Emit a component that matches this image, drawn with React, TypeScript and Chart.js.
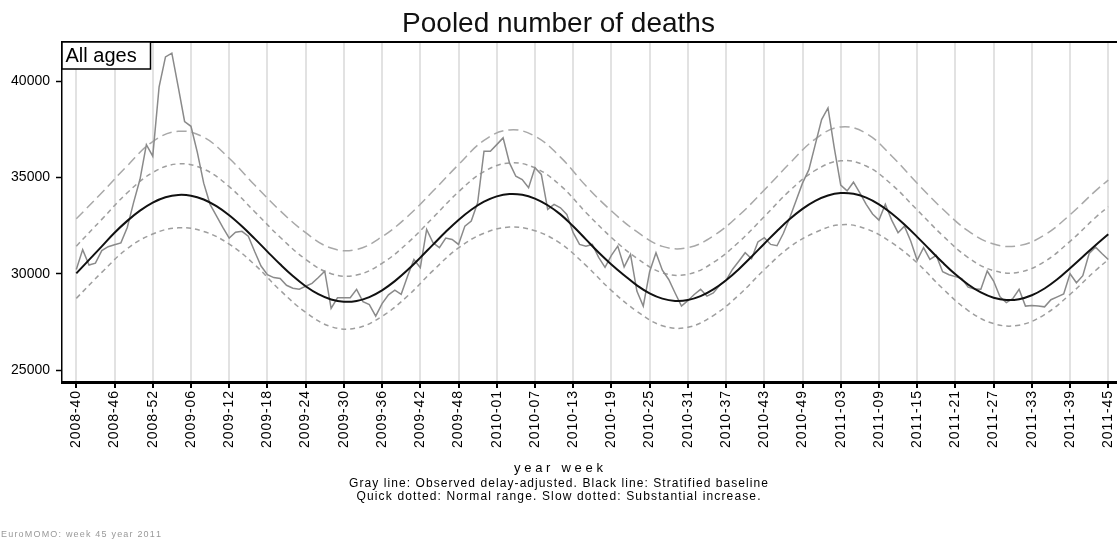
import React, { useEffect, useRef } from 'react';
import { Chart, registerables } from 'chart.js';

Chart.register(...registerables);

const FONT = "'Liberation Sans', Arial, Helvetica, sans-serif";

const titleText = 'Pooled number of deaths';
const panelLabel = 'All ages';
const xAxisTitle = 'year week';
const noteLine1 = 'Gray line: Observed delay-adjusted. Black line: Stratified baseline';
const noteLine2 = 'Quick dotted: Normal range. Slow dotted: Substantial increase.';
const sourceNote = 'EuroMOMO: week 45 year 2011';

// x position of each tick = week index counted from 2008-40
const tickWeeks = [0, 6, 12, 18, 24, 30, 36, 42, 48, 54, 60, 66, 72, 78, 84, 90, 96, 102, 108, 114, 120, 126, 132, 138, 144, 150, 156, 162];
const tickLabels = [
  '2008-40', '2008-46', '2008-52', '2009-06', '2009-12', '2009-18', '2009-24', '2009-30', '2009-36', '2009-42',
  '2009-48', '2010-01', '2010-07', '2010-13', '2010-19', '2010-25', '2010-31', '2010-37', '2010-43', '2010-49',
  '2011-03', '2011-09', '2011-15', '2011-21', '2011-27', '2011-33', '2011-39', '2011-45',
];
const yTickValues = [25000, 30000, 35000, 40000];

// weekly observed (delay-adjusted) deaths, week 0 = 2008-40 ... week 162 = 2011-45
const observed = [
  30220, 31250, 30450, 30550, 31200, 31400, 31500, 31600, 32400, 33700,
  34900, 36700, 36100, 39700, 41250, 41450, 39700, 37900, 37650, 36300,
  34700, 33600, 33000, 32400, 31850, 32150, 32200, 31950, 31150, 30400,
  29950, 29800, 29750, 29400, 29250, 29200, 29350, 29500, 29800, 30130,
  28200, 28750, 28750, 28750, 29190, 28550, 28400, 27800, 28450, 28900,
  29150, 28930, 29870, 30740, 30310, 32300, 31600, 31350, 31850, 31780,
  31520, 32470, 32730, 33680, 36360, 36360, 36700, 37050, 35750, 35060,
  34890, 34460, 35500, 35150, 33340, 33600, 33420, 33080, 32130, 31520,
  31430, 31520, 30850, 30330, 30950, 31430, 30350, 31000, 29100, 28320,
  30100, 31090, 30180, 29700, 29000, 28320, 28600, 28920, 29190, 28840,
  29000, 29400, 29650, 30220, 30650, 31090, 30780, 31650, 31870, 31520,
  31450, 32100, 32900, 33800, 34700, 35400, 36700, 38000, 38600, 36500,
  34600, 34300, 34750, 34200, 33600, 33100, 32780, 33600, 32780, 32130,
  32470, 31690, 30700, 31350, 30740, 30950, 30100, 29950, 29850, 29750,
  29300, 29200, 29190, 30140, 29620, 28800, 28500, 28700, 29190, 28320,
  28350, 28330, 28280, 28650, 28800, 28950, 30000, 29530, 29900, 31050,
  31380, 31050, 30740,
];

const baselineWeeks = [
  0, 2, 4, 6, 8, 10, 12, 14, 16, 18,
  20, 22, 24, 26, 28, 30, 32, 34, 36, 38,
  40, 42, 44, 46, 48, 50, 52, 54, 56, 58,
  60, 62, 64, 66, 68, 70, 72, 74, 76, 78,
  80, 82, 84, 86, 88, 90, 92, 94, 96, 98,
  100, 102, 104, 106, 108, 110, 112, 114, 116, 118,
  120, 122, 124, 126, 128, 130, 132, 134, 136, 138,
  140, 142, 144, 146, 148, 150, 152, 154, 156, 158,
  160, 162,
];
const baseline = [
  30020, 30720, 31420, 32126, 32742, 33272, 33689, 33967, 34089, 34050,
  33852, 33506, 33033, 32461, 31819, 31148, 30488, 29876, 29349, 28936,
  28662, 28543, 28586, 28787, 29137, 29614, 30189, 30835, 31509, 32173,
  32789, 33319, 33736, 34013, 34136, 34097, 33899, 33553, 33079, 32460,
  31780, 31100, 30480, 29922, 29396, 28983, 28709, 28590, 28632, 28834,
  29184, 29661, 30236, 30881, 31556, 32220, 32836, 33366, 33782, 34060,
  34183, 34144, 33946, 33599, 33126, 32555, 31913, 31242, 30581, 29969,
  29443, 29030, 28756, 28636, 28679, 28881, 29231, 29708, 30282, 30880,
  31480, 32050,
];

const bandWeeks = [
  0, 4, 8, 12, 16, 20, 24, 28, 32, 36,
  40, 44, 48, 52, 56, 60, 64, 68, 72, 76,
  80, 84, 88, 92, 96, 100, 104, 108, 112, 116,
  120, 124, 128, 132, 136, 140, 144, 148, 152, 156,
  160, 162,
];
const upperSubstantial = [
  32850, 34200, 35600, 36860, 37390, 37080, 35990, 34600, 33270, 32130,
  31330, 31260, 31920, 32970, 34290, 35660, 36920, 37460, 37140, 36050,
  34560, 33260, 32180, 31420, 31350, 31960, 33020, 34340, 35730, 36990,
  37620, 37280, 36110, 34690, 33360, 32220, 31540, 31460, 32010, 33060,
  34300, 34860,
];
const upperNormal = [
  31430, 32820, 34200, 35250, 35700, 35430, 34520, 33220, 31890, 30750,
  30000, 29930, 30540, 31590, 32910, 34250, 35300, 35750, 35490, 34580,
  33180, 31880, 30800, 30050, 29970, 30580, 31640, 32960, 34310, 35360,
  35860, 35590, 34630, 33310, 31980, 30840, 30160, 30080, 30630, 31680,
  32920, 33480,
];
const lowerNormal = [
  28720, 30070, 31300, 32060, 32380, 32190, 31540, 30470, 29140, 28000,
  27250, 27180, 27790, 28840, 30160, 31340, 32100, 32420, 32230, 31570,
  30430, 29130, 28050, 27300, 27220, 27830, 28890, 30210, 31380, 32140,
  32540, 32330, 31610, 30560, 29230, 28090, 27410, 27330, 27880, 28930,
  30170, 30730,
];

function drawSpaced(ctx: CanvasRenderingContext2D, text: string, x: number, y: number, target: number) {
  const chars = Array.from(text);
  const widths = chars.map((c) => ctx.measureText(c).width);
  const natural = widths.reduce((a, b) => a + b, 0);
  const sp = chars.length > 1 ? (target - natural) / (chars.length - 1) : 0;
  let cx = x;
  chars.forEach((c, i) => {
    ctx.fillText(c, cx, y);
    cx += widths[i] + sp;
  });
}

const decorPlugin = {
  id: 'decor',
  afterDraw(chart: any) {
    const ctx: CanvasRenderingContext2D = chart.ctx;
    const area = chart.chartArea;
    const xs = chart.scales.x;
    const W = chart.width;
    ctx.save();

    // top frame line
    ctx.strokeStyle = '#000';
    ctx.lineWidth = 2;
    ctx.beginPath();
    ctx.moveTo(area.left - 0.75, area.top);
    ctx.lineTo(W, area.top);
    ctx.stroke();

    // panel label box
    ctx.fillStyle = '#fff';
    ctx.fillRect(area.left, area.top, 88.5, 27);
    ctx.lineWidth = 1.5;
    ctx.strokeRect(area.left, area.top, 88.5, 27);
    ctx.fillStyle = '#000';
    ctx.font = `20px ${FONT}`;
    ctx.textAlign = 'left';
    ctx.textBaseline = 'alphabetic';
    ctx.fillText(panelLabel, area.left + 3.5, area.top + 20);

    // title
    ctx.font = `28px ${FONT}`;
    ctx.textAlign = 'center';
    ctx.fillStyle = '#111';
    ctx.fillText(titleText, W / 2, 31.5);

    // rotated x tick labels
    ctx.font = `14px ${FONT}`;
    ctx.textAlign = 'left';
    ctx.textBaseline = 'middle';
    ctx.fillStyle = '#000';
    tickWeeks.forEach((w, i) => {
      const px = xs.getPixelForValue(w);
      ctx.save();
      ctx.translate(px, 391);
      ctx.rotate(-Math.PI / 2);
      drawSpaced(ctx, tickLabels[i], -57, 0, 57);
      ctx.restore();
    });

    // axis title and notes
    ctx.textBaseline = 'alphabetic';
    const cx = W / 2;
    ctx.font = `13px ${FONT}`;
    drawSpaced(ctx, xAxisTitle, cx - 89 / 2, 472, 89);
    ctx.font = `12px ${FONT}`;
    drawSpaced(ctx, noteLine1, cx - 419 / 2, 487, 419);
    drawSpaced(ctx, noteLine2, cx - 404 / 2, 500, 404);
    ctx.font = `9px ${FONT}`;
    ctx.fillStyle = '#999';
    drawSpaced(ctx, sourceNote, 1, 537, 160);

    ctx.restore();
  },
};

export default function App() {
  const ref = useRef<HTMLCanvasElement>(null);

  useEffect(() => {
    document.body.style.margin = '0';
    const canvas = ref.current;
    if (!canvas) return;
    const chart = new Chart(canvas, {
      type: 'line',
      data: {
        datasets: [
          {
            label: 'Stratified baseline',
            data: baseline.map((v, i) => ({ x: baselineWeeks[i], y: v })),
            borderColor: '#111',
            borderWidth: 2,
            pointRadius: 0,
            tension: 0.4,
            fill: false,
            order: 0,
          },
          {
            label: 'Observed delay-adjusted',
            data: observed.map((v, i) => ({ x: i, y: v })),
            borderColor: '#8a8a8a',
            borderWidth: 1.5,
            pointRadius: 0,
            tension: 0,
            fill: false,
            order: 1,
          },
          {
            label: 'Substantial increase',
            data: upperSubstantial.map((v, i) => ({ x: bandWeeks[i], y: v })),
            borderColor: '#a8a8a8',
            borderWidth: 1.5,
            borderDash: [10, 5],
            pointRadius: 0,
            tension: 0.4,
            fill: false,
            order: 2,
          },
          {
            label: 'Normal range upper',
            data: upperNormal.map((v, i) => ({ x: bandWeeks[i], y: v })),
            borderColor: '#9e9e9e',
            borderWidth: 1.5,
            borderDash: [5, 4],
            pointRadius: 0,
            tension: 0.4,
            fill: false,
            order: 3,
          },
          {
            label: 'Normal range lower',
            data: lowerNormal.map((v, i) => ({ x: bandWeeks[i], y: v })),
            borderColor: '#9e9e9e',
            borderWidth: 1.5,
            borderDash: [5, 4],
            pointRadius: 0,
            tension: 0.4,
            fill: false,
            order: 4,
          },
        ],
      },
      options: {
        animation: false,
        responsive: false,
        devicePixelRatio: 1,
        layout: { padding: { top: 42, left: 0, right: 0, bottom: 0 } },
        plugins: {
          legend: { display: false },
          tooltip: { enabled: false },
          title: { display: false },
        },
        scales: {
          x: {
            type: 'linear',
            bounds: 'data',
            min: -2.245,
            max: 163.37,
            afterBuildTicks: (s: any) => {
              s.ticks = tickWeeks.map((v) => ({ value: v }));
            },
            afterFit: (s: any) => {
              s.height = 163;
            },
            ticks: { display: false },
            grid: {
              color: '#e2e2e2',
              lineWidth: 2,
              drawTicks: true,
              tickLength: 6,
              tickColor: '#000',
              tickWidth: 2,
            },
            border: { display: true, color: '#000', width: 3 },
          },
          y: {
            type: 'linear',
            bounds: 'data',
            min: 24380,
            max: 42025,
            afterBuildTicks: (s: any) => {
              s.ticks = yTickValues.map((v) => ({ value: v }));
            },
            afterFit: (s: any) => {
              s.width = 62;
            },
            ticks: {
              font: { family: FONT, size: 14 },
              color: '#000',
              padding: 6,
              callback: (v: any) => String(v),
            },
            grid: {
              drawOnChartArea: false,
              drawTicks: true,
              tickLength: 6,
              tickColor: '#000',
              tickWidth: 1.5,
            },
            border: { display: true, color: '#000', width: 1.5 },
          },
        },
      } as any,
      plugins: [decorPlugin],
    });
    return () => chart.destroy();
  }, []);

  return (
    <div style={{ position: 'absolute', left: 0, top: 0, width: 1117, height: 545, background: '#fff' }}>
      <canvas ref={ref} width={1117} height={545} style={{ display: 'block', width: 1117, height: 545 }} />
    </div>
  );
}
